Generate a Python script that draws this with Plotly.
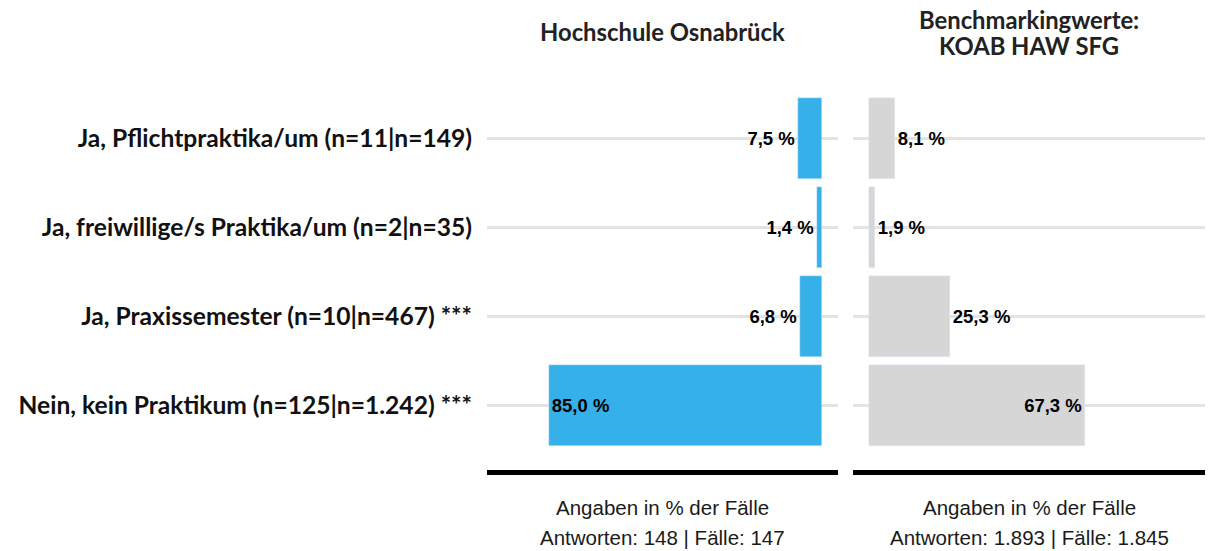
import plotly.graph_objects as go

categories = [
    "Ja, Pflichtpraktika/um (n=11|n=149)",
    "Ja, freiwillige/s Praktika/um (n=2|n=35)",
    "Ja, Praxissemester (n=10|n=467) ***",
    "Nein, kein Praktikum (n=125|n=1.242) ***",
]
hs_values = [7.5, 1.4, 6.8, 85.0]
bench_values = [8.1, 1.9, 25.3, 67.3]
hs_textpos = ["outside", "outside", "outside", "inside"]
bench_textpos = ["outside", "outside", "outside", "inside"]

panel_titles = [["Hochschule Osnabrück"], ["Benchmarkingwerte:", "KOAB HAW SFG"]]
footer_line1 = ["Angaben in % der Fälle", "Angaben in % der Fälle"]
footer_line2 = ["Antworten: 148 | Fälle: 147", "Antworten: 1.893 | Fälle: 1.845"]

W, H = 1214, 551
BLUE = "#36B0E8"
GREY = "#D6D6D6"
LABEL_FONT = "Lato"
NUM_FONT = "Liberation Sans, Arial"


def fmt(v):
    return f"{v:.1f} %".replace(".", ",")


fig = go.Figure()
fig.add_trace(go.Bar(
    x=hs_values, y=categories, orientation="h", marker_color=BLUE,
    width=0.91, text=[fmt(v) for v in hs_values], textposition=hs_textpos,
    insidetextanchor="end", cliponaxis=False,
    textfont=dict(family=NUM_FONT, size=18.5, color="black", weight="bold"),
    xaxis="x", yaxis="y", hoverinfo="skip",
))
fig.add_trace(go.Bar(
    x=bench_values, y=categories, orientation="h", marker_color=GREY,
    width=0.91, text=[fmt(v) for v in bench_values], textposition=bench_textpos,
    insidetextanchor="end", cliponaxis=False,
    textfont=dict(family=NUM_FONT, size=18.5, color="black", weight="bold"),
    xaxis="x2", yaxis="y2", hoverinfo="skip",
))

dom1 = [487 / W, 838 / W]
dom2 = [853 / W, 1205 / W]
ydom = [1 - 470 / H, 1 - 94 / H]
yrange = [3.72, -0.5]

common_x = dict(showgrid=False, zeroline=False, showticklabels=False, ticks="",
                showline=True, linecolor="black", linewidth=5, fixedrange=True)
common_y = dict(type="category", categoryorder="array", categoryarray=categories,
                range=yrange, showgrid=True, gridcolor="rgba(0,0,0,0.11)", gridwidth=3,
                layer="above traces", zeroline=False, showline=False, ticks="",
                domain=ydom, fixedrange=True)

fig.update_layout(
    width=W, height=H,
    margin=dict(l=0, r=0, t=0, b=0),
    paper_bgcolor="white", plot_bgcolor="white",
    showlegend=False,
    bargap=0,
    xaxis=dict(domain=dom1, range=[104.4, -5], anchor="y", **common_x),
    xaxis2=dict(domain=dom2, range=[-5, 104.7], anchor="y2", **common_x),
    yaxis=dict(anchor="x", showticklabels=True, ticklabelstandoff=14,
               tickfont=dict(family=LABEL_FONT, size=24.6, color="#111111", weight="bold"),
               **common_y),
    yaxis2=dict(anchor="x2", showticklabels=False, **common_y),
)

centers = [(dom1[0] + dom1[1]) / 2, (dom2[0] + dom2[1]) / 2]
title_rows = [[32], [20, 46]]
for i in range(2):
    for line, ypix in zip(panel_titles[i], title_rows[i]):
        fig.add_annotation(x=centers[i], y=1 - ypix / H, xref="paper", yref="paper",
                           text=line, showarrow=False,
                           font=dict(family=LABEL_FONT, size=23.8, color="#222222", weight="bold"),
                           xanchor="center", yanchor="middle", align="center")
    fig.add_annotation(x=centers[i], y=1 - 507 / H, xref="paper", yref="paper",
                       text=footer_line1[i], showarrow=False,
                       font=dict(family=NUM_FONT, size=20.5, color="#1a1a1a"),
                       xanchor="center", yanchor="middle")
    fig.add_annotation(x=centers[i], y=1 - 537 / H, xref="paper", yref="paper",
                       text=footer_line2[i], showarrow=False,
                       font=dict(family=NUM_FONT, size=20.5, color="#1a1a1a"),
                       xanchor="center", yanchor="middle")

fig.write_html("out.html", config={"displayModeBar": False},
               post_script="document.body.style.margin='0';document.body.style.overflow='hidden';")
